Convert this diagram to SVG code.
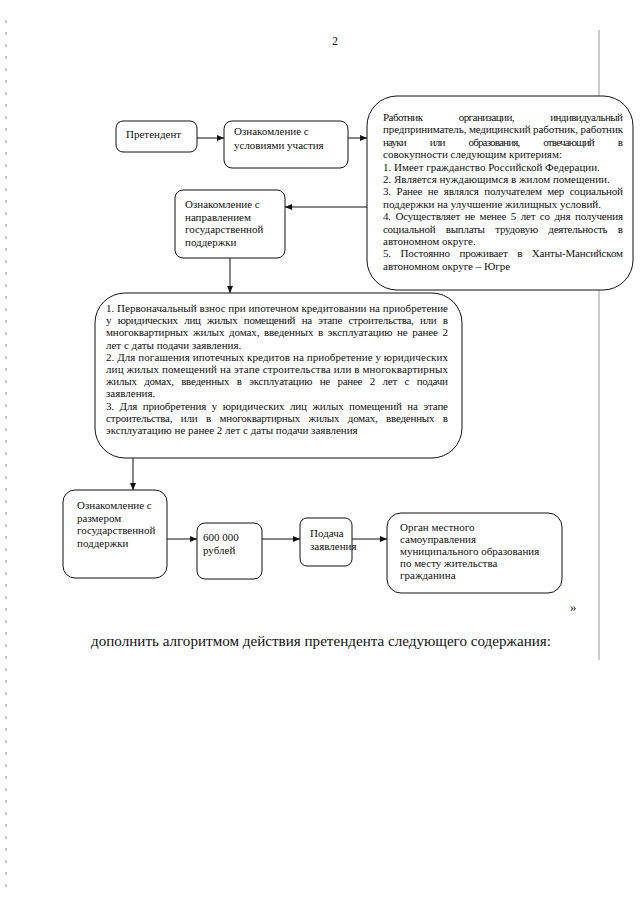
<svg xmlns="http://www.w3.org/2000/svg" width="640" height="905" viewBox="0 0 640 905">
<defs>
<style>
.lbl{font-family:'Liberation Serif','Times New Roman',serif;font-size:11px;fill:#111}
.big{font-family:'Liberation Serif','Times New Roman',serif;font-size:15.5px;fill:#111}
.box{fill:#fff;stroke:#111;stroke-width:1}
.c{stroke:#111;stroke-width:1;fill:none;marker-end:url(#ah)}
.art{stroke:#999;stroke-width:1;fill:none}
</style>
<marker id="ah" markerWidth="7" markerHeight="6" refX="7" refY="3" orient="auto" markerUnits="userSpaceOnUse">
<path d="M0,0 L7,3 L0,6 z" fill="#111"/>
</marker>
</defs>
<rect x="0" y="0" width="640" height="905" fill="#fff"/>
<g id="artifacts">
<line class="art" x1="599" y1="30" x2="599" y2="660"/>
<line class="art" x1="6" y1="20" x2="6" y2="890" stroke-dasharray="3 9" stroke="#bbb"/>
</g>
<text class="lbl" x="332" y="45" style="font-size:12px">2</text>

<g id="connectors">
<line class="c" x1="197" y1="138" x2="224" y2="138"/>
<line class="c" x1="348" y1="138" x2="367" y2="138"/>
<line class="c" x1="367" y1="207" x2="285" y2="207"/>
<line class="c" x1="230" y1="258" x2="230" y2="293"/>
<line class="c" x1="133" y1="458" x2="133" y2="490"/>
<line class="c" x1="167" y1="539" x2="197" y2="539"/>
<line class="c" x1="262" y1="539" x2="300" y2="539"/>
<line class="c" x1="352" y1="539" x2="387" y2="539"/>
</g>

<g id="n-pretendent">
<rect class="box" x="116" y="121" width="81" height="31" rx="7"/>
<text class="lbl" x="126" y="138">Претендент</text>
</g>

<g id="n-usloviya">
<rect class="box" x="224" y="121" width="124" height="47" rx="8"/>
<text class="lbl" x="234" y="135">Ознакомление с</text>
<text class="lbl" x="234" y="149">условиями участия</text>
</g>

<g id="n-kriterii">
<rect class="box" x="367" y="96" width="266" height="194" rx="30"/>
<text class="lbl" x="383" y="121" textLength="240" lengthAdjust="spacing" word-spacing="34">Работник организации, индивидуальный</text>
<text class="lbl" x="383" y="133.4" textLength="240" lengthAdjust="spacing">предприниматель, медицинский работник, работник</text>
<text class="lbl" x="383" y="145.8" textLength="240" lengthAdjust="spacing" word-spacing="22">науки или образования, отвечающий в</text>
<text class="lbl" x="383" y="158.2">совокупности следующим критериям:</text>
<text class="lbl" x="383" y="170.6">1. Имеет гражданство Российской Федерации.</text>
<text class="lbl" x="383" y="183">2. Является нуждающимся в жилом помещении.</text>
<text class="lbl" x="383" y="195.4" textLength="240" lengthAdjust="spacing" word-spacing="3">3. Ранее не являлся получателем мер социальной</text>
<text class="lbl" x="383" y="207.8">поддержки на улучшение жилищных условий.</text>
<text class="lbl" x="383" y="220.2" textLength="240" lengthAdjust="spacing" word-spacing="2">4. Осуществляет не менее 5 лет со дня получения</text>
<text class="lbl" x="383" y="232.6" textLength="240" lengthAdjust="spacing" word-spacing="8">социальной выплаты трудовую деятельность в</text>
<text class="lbl" x="383" y="245">автономном округе.</text>
<text class="lbl" x="383" y="257.4" textLength="240" lengthAdjust="spacing" word-spacing="7">5. Постоянно проживает в Ханты-Мансийском</text>
<text class="lbl" x="383" y="269.8">автономном округе – Югре</text>
</g>

<g id="n-napravlenie">
<rect class="box" x="175" y="190" width="110" height="68" rx="8"/>
<text class="lbl" x="185" y="208">Ознакомление с</text>
<text class="lbl" x="185" y="220.5">направлением</text>
<text class="lbl" x="185" y="233">государственной</text>
<text class="lbl" x="185" y="245.5">поддержки</text>
</g>

<g id="n-napravleniya-list">
<rect class="box" x="95" y="293" width="367" height="165" rx="30"/>
<text class="lbl" x="106" y="312" textLength="342" lengthAdjust="spacing">1. Первоначальный взнос при ипотечном кредитовании на приобретение</text>
<text class="lbl" x="106" y="324.2" textLength="342" lengthAdjust="spacing" word-spacing="4">у юридических лиц жилых помещений на этапе строительства, или в</text>
<text class="lbl" x="106" y="336.4" textLength="342" lengthAdjust="spacing" word-spacing="2">многоквартирных жилых домах, введенных в эксплуатацию не ранее 2</text>
<text class="lbl" x="106" y="348.6">лет с даты подачи заявления.</text>
<text class="lbl" x="106" y="360.8" textLength="342" lengthAdjust="spacing">2. Для погашения ипотечных кредитов на приобретение у юридических</text>
<text class="lbl" x="106" y="373" textLength="342" lengthAdjust="spacing">лиц жилых помещений на этапе строительства или в многоквартирных</text>
<text class="lbl" x="106" y="385.2" textLength="342" lengthAdjust="spacing" word-spacing="5">жилых домах, введенных в эксплуатацию не ранее 2 лет с подачи</text>
<text class="lbl" x="106" y="397.4">заявления.</text>
<text class="lbl" x="106" y="409.6" textLength="342" lengthAdjust="spacing" word-spacing="3">3. Для приобретения у юридических лиц жилых помещений на этапе</text>
<text class="lbl" x="106" y="421.8" textLength="342" lengthAdjust="spacing" word-spacing="6">строительства, или в многоквартирных жилых домах, введенных в</text>
<text class="lbl" x="106" y="434">эксплуатацию не ранее 2 лет с даты подачи заявления</text>
</g>

<g id="n-razmer">
<rect class="box" x="63" y="490" width="104" height="88" rx="12"/>
<text class="lbl" x="77" y="509">Ознакомление с</text>
<text class="lbl" x="77" y="521.5">размером</text>
<text class="lbl" x="77" y="534">государственной</text>
<text class="lbl" x="77" y="546.5">поддержки</text>
</g>

<g id="n-summa">
<rect class="box" x="197" y="523" width="65" height="56" rx="8"/>
<text class="lbl" x="203" y="541">600 000</text>
<text class="lbl" x="203" y="553.5">рублей</text>
</g>

<g id="n-podacha">
<rect class="box" x="300" y="518" width="52" height="48" rx="7"/>
<text class="lbl" x="310" y="537">Подача</text>
<text class="lbl" x="310" y="549.5">заявления</text>
</g>

<g id="n-organ">
<rect class="box" x="387" y="513" width="175" height="80" rx="14"/>
<text class="lbl" x="400" y="531">Орган местного</text>
<text class="lbl" x="400" y="543">самоуправления</text>
<text class="lbl" x="400" y="555">муниципального образования</text>
<text class="lbl" x="400" y="567">по месту жительства</text>
<text class="lbl" x="400" y="579">гражданина</text>
</g>

<text class="lbl" x="570" y="611" style="font-size:13px">»</text>
<text class="big" x="91" y="646" textLength="460" lengthAdjust="spacingAndGlyphs">дополнить алгоритмом действия претендента следующего содержания:</text>
</svg>
